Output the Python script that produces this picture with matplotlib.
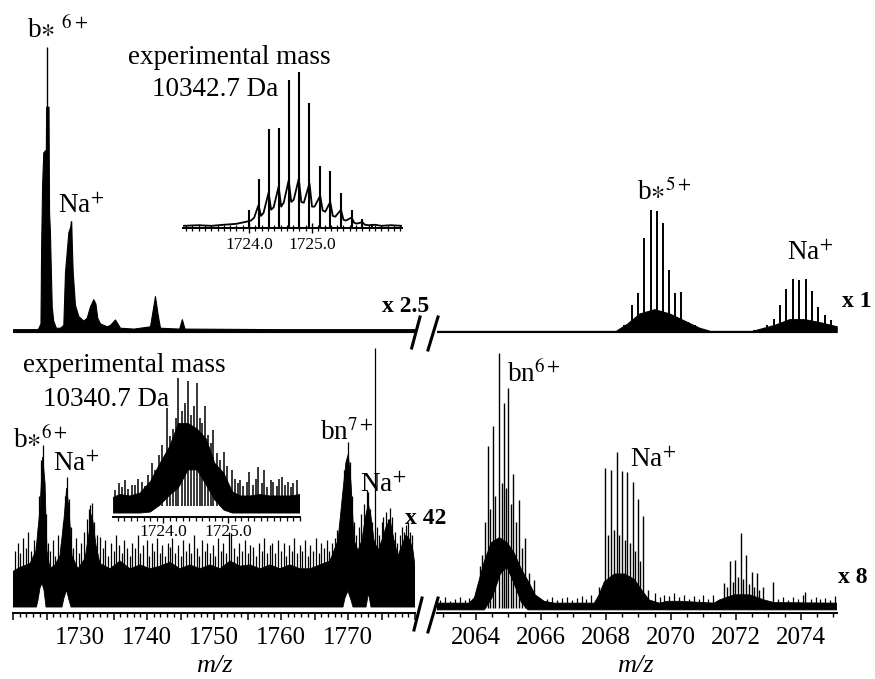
import matplotlib.pyplot as plt
from matplotlib.lines import Line2D
from matplotlib.ticker import MultipleLocator, FuncFormatter

plt.rcParams['font.family'] = ['Liberation Serif', 'DejaVu Serif']
plt.rcParams['mathtext.fontset'] = 'stix'

W, H = 875, 679

## Data: m/z and relative intensity
# upper trace, left part (x 2.5): envelope of the filled trace
tl_mz = [1720.0, 1723.7, 1724.1, 1724.2, 1724.35, 1724.52, 1724.9, 1724.95, 1725.3,
         1725.38, 1725.5, 1725.78, 1726.0, 1726.4, 1727.0, 1727.51, 1727.76, 1728.26,
         1728.55, 1728.66, 1728.91, 1729.25, 1729.75, 1730.5, 1731.0, 1731.49, 1731.99,
         1732.3, 1732.58, 1732.99, 1734.0, 1734.48, 1735.22, 1735.97, 1738.0, 1740.45,
         1740.8, 1741.19, 1741.6, 1741.94, 1744.8, 1745.2, 1745.6, 1760.0, 1780.0]
tl_int = [1, 1, 3, 30, 52, 63, 64, 79, 79,
          42, 36, 9, 4, 1.5, 1.5, 2.5, 21, 35,
          37, 38.8, 21, 9.5, 5.6, 4, 5, 9, 11.5,
          10, 5, 3, 2, 2.5, 4.4, 1.5, 1.2, 2,
          7, 12.6, 6, 1.5, 1.2, 4.5, 1.2, 1, 1]
tl_spike_mz = [1725.03, 1728.66]
tl_spike_int = [100, 38.8]

# upper trace, right part (x 1): b*5+ and Na+ isotope peaks
tr_peak_mz = [2068.56, 2068.79, 2068.99, 2069.18, 2069.38, 2069.57, 2069.75, 2069.94,
              2070.13, 2070.32, 2070.52, 2070.74, 2070.94,
              2072.57, 2072.78, 2072.96, 2073.16, 2073.34, 2073.54, 2073.74, 2073.93,
              2074.14, 2074.33, 2074.53, 2074.73, 2074.92]
tr_peak_int = [2.3, 9.3, 13.7, 32.9, 42.9, 42.3, 38.2, 21.7,
               13.7, 14.0, 3.5, 2.3, 1.2,
               0.6, 1.2, 2.3, 4.5, 9.3, 15.2, 18.7, 18.1,
               18.7, 14.4, 8.6, 5.8, 4.1]
tr_body_mz = [2062.8, 2068.3, 2068.66, 2069.03, 2069.49, 2069.95, 2070.41, 2070.87,
              2071.2, 2072.5, 2073.18, 2073.64, 2074.1, 2074.56, 2075.1]
tr_body_int = [0.4, 0.4, 3, 6.5, 8, 6.5, 4, 1.5, 0.4, 0.4, 2.5, 4.5, 4.5, 3.5, 2]

# inset of the upper trace (b*6+ isotope cluster)
in1_body_mz = [1722.95, 1723.2, 1723.4, 1723.6, 1723.8, 1723.95, 1724.03, 1724.08,
               1724.15, 1724.19, 1724.23, 1724.31, 1724.35, 1724.39, 1724.47, 1724.51,
               1724.55, 1724.63, 1724.67, 1724.71, 1724.79, 1724.83, 1724.87, 1724.96,
               1725.0, 1725.04, 1725.13, 1725.17, 1725.21, 1725.29, 1725.33, 1725.37,
               1725.46, 1725.5, 1725.54, 1725.63, 1725.67, 1725.71, 1725.8, 1725.84,
               1725.9, 1726.0, 1726.1, 1726.25, 1726.43]
in1_body_int = [0.6, 1, 0.6, 1.3, 1.9, 3.2, 4, 5.8,
                14, 7, 9, 22, 11, 12.5, 26, 13,
                15.5, 30, 16, 17.5, 31, 16, 15.5, 28,
                13, 13, 20, 10.5, 9.7, 16, 7, 6.5,
                11, 4.5, 4, 6, 2.6, 2, 3, 1.3,
                1, 1.3, 0.6, 1, 0.6]
in1_peak_mz = [1724.0, 1724.15, 1724.31, 1724.47, 1724.63, 1724.79, 1724.96, 1725.13,
               1725.29, 1725.46, 1725.63, 1725.8, 1725.96]
in1_peak_int = [11, 31, 63, 64, 95, 100, 80, 39, 36, 22, 11, 4.7, 2]
in1_labels = ['1724.0', '1725.0']

# lower trace, left part (x 42): noise band outline and spikes
ll_up_mz = [1720.0, 1721.04, 1722.54, 1723.43, 1724.03, 1724.43, 1724.78, 1725.07, 1725.52,
            1726.27, 1727.01, 1727.61, 1728.01, 1728.36, 1728.81, 1729.7, 1730.75, 1731.79,
            1732.39, 1732.99, 1734.48, 1735.97, 1737.46, 1738.96, 1740.45, 1741.94, 1743.43,
            1744.93, 1746.42, 1747.91, 1749.4, 1750.9, 1752.39, 1753.88, 1755.37, 1756.87,
            1758.36, 1759.85, 1761.34, 1762.84, 1764.33, 1765.82, 1767.31, 1768.51, 1769.25,
            1769.7, 1770.04, 1770.45, 1770.9, 1771.49, 1772.09, 1772.54, 1773.03, 1773.43,
            1773.88, 1774.48, 1775.07, 1775.67, 1776.27, 1776.87, 1777.46, 1778.06, 1778.66,
            1779.25, 1779.7, 1780.0]
ll_up_int = [16, 17.5, 19, 24, 40, 60, 50, 24, 17,
             18.5, 22, 36, 48, 40, 22, 17, 21, 38,
             26, 19, 17, 20, 17, 18.5, 17, 18, 19.5,
             17, 18.5, 17, 18.5, 17, 20, 18, 18.5, 17,
             18.5, 17, 18.5, 17, 17, 18.5, 20, 28, 47,
             58, 61, 50, 28, 24, 28, 36, 42, 37,
             28, 24, 28, 33, 36, 28, 22, 26, 30,
             28, 24, 18]
ll_low_mz = [1720.0, 1723.5, 1723.73, 1724.03, 1724.33, 1724.63, 1724.93, 1727.31, 1727.61,
             1727.99, 1728.36, 1728.66, 1769.25, 1769.55, 1769.99, 1770.45, 1770.75,
             1772.69, 1773.06, 1773.43, 1780.0]
ll_low_int = [2.3, 2.3, 5, 9.6, 11.5, 8.8, 2.3, 2.3, 5.8,
              8.8, 5, 2.3, 2.3, 5.8, 8.5, 5, 2.3,
              2.3, 7.7, 2.3, 2.3]
ll_spike_mz = [1720.3, 1720.7, 1721.1, 1721.5, 1721.9, 1722.3, 1722.7, 1723.1, 1723.4, 1723.7,
               1723.9, 1724.18, 1724.43, 1724.6, 1724.9, 1725.2, 1725.5, 1725.9, 1726.3, 1726.7,
               1727.1, 1727.4, 1727.8, 1728.01, 1728.3, 1728.6, 1729.0, 1729.4, 1729.8, 1730.2,
               1730.6, 1731.0, 1731.3, 1731.49, 1731.79, 1732.1, 1732.5, 1732.99, 1733.4, 1733.8,
               1734.2, 1734.6, 1735.0, 1735.4, 1735.8, 1736.2, 1736.6, 1737.0, 1737.4, 1737.8,
               1738.2, 1738.6, 1739.0, 1739.4, 1739.96, 1740.3, 1740.7, 1741.1, 1741.5, 1741.9,
               1742.3, 1742.7, 1743.1, 1743.43, 1743.8, 1744.2, 1744.6, 1745.0, 1745.4, 1745.8,
               1746.2, 1746.6, 1747.0, 1747.4, 1747.8, 1748.2, 1748.6, 1749.0, 1749.4, 1749.8,
               1750.2, 1750.6, 1751.0, 1751.4, 1751.8, 1752.2, 1752.6, 1753.0, 1753.4, 1753.8,
               1754.2, 1754.6, 1755.0, 1755.4, 1755.87, 1756.3, 1756.7, 1757.1, 1757.5, 1757.9,
               1758.3, 1758.7, 1759.1, 1759.6, 1760.0, 1760.4, 1760.8, 1761.2, 1761.6, 1762.0,
               1762.4, 1762.8, 1763.2, 1763.6, 1764.0, 1764.4, 1764.8, 1765.2, 1765.6, 1766.0,
               1766.4, 1766.8, 1767.2, 1767.6, 1768.0, 1768.4, 1768.81, 1769.1, 1769.4, 1770.04,
               1770.3, 1770.6, 1770.9, 1771.2, 1771.6, 1772.0, 1772.4, 1772.79, 1773.03, 1773.3,
               1773.6, 1774.03, 1774.3, 1774.7, 1775.0, 1775.27, 1775.6, 1776.0, 1776.27, 1776.6,
               1777.0, 1777.3, 1777.7, 1778.0, 1778.4, 1778.66, 1779.0, 1779.3, 1779.6]
ll_spike_int = [24, 27, 23, 29, 25, 31, 24, 28, 26, 33,
                45, 58.8, 64.6, 50, 38, 27, 24, 28, 22, 30,
                27, 35, 45, 52.3, 44, 33, 25, 29, 23, 27,
                31, 36, 40, 41.5, 42.3, 35, 30, 29.3, 25, 28,
                22, 27, 24, 30, 26, 23, 28, 25, 22, 27,
                25, 30, 23, 26, 28, 22, 27, 24, 29, 23,
                26, 22, 27, 25.5, 29, 23, 26, 22, 28, 24,
                27, 23, 30, 25, 22, 28, 24, 27, 23, 26,
                22, 29, 24, 27, 23, 31, 30.7, 25, 22, 27,
                24, 28, 23, 26, 25.5, 22, 27, 24, 29, 23,
                26, 27, 23, 28.1, 24, 27, 22, 26, 24, 29,
                23, 26, 24, 28, 22, 26, 24, 29, 23, 27,
                25, 28, 24, 27, 29, 32, 35, 42, 55, 65.8,
                58, 45, 35, 30, 33, 38, 42, 47.3, 46.5, 40,
                35, 101.8, 33, 30, 35, 37, 39, 36, 40.4, 37,
                31, 27, 30, 33, 31, 33.8, 35, 31, 30]

# inset of the lower trace
in2_mz = [1723.23, 1723.33, 1723.49, 1723.64, 1723.8, 1723.95, 1724.1, 1724.23, 1724.38,
          1724.52, 1724.66, 1724.79, 1724.93, 1725.06, 1725.18, 1725.33, 1725.49, 1725.64,
          1725.8, 1725.95, 1726.1]
in2_up = [14, 16, 15, 17, 25, 38, 50, 66, 66,
          62, 55, 38, 31, 18, 15, 15, 16, 15,
          15, 15, 16]
in2_low = [3, 3, 3, 3, 3.7, 8.7, 15.7, 20.6, 33.3,
           33.3, 22.7, 12.2, 5.1, 3, 3, 3, 3, 3,
           3, 3, 3]
in2_spike_mz = [1723.26, 1723.31, 1723.36, 1723.41, 1723.46, 1723.51, 1723.56, 1723.61, 1723.67, 1723.72,
                1723.77, 1723.82, 1723.87, 1723.93, 1723.98, 1724.05, 1724.1, 1724.15, 1724.19, 1724.23,
                1724.28, 1724.33, 1724.38, 1724.43, 1724.47, 1724.51, 1724.56, 1724.6, 1724.64, 1724.69,
                1724.73, 1724.77, 1724.82, 1724.87, 1724.93, 1724.98, 1725.05, 1725.1, 1725.14, 1725.18,
                1725.23, 1725.28, 1725.32, 1725.37, 1725.42, 1725.46, 1725.51, 1725.55, 1725.6, 1725.65,
                1725.69, 1725.74, 1725.78, 1725.82, 1725.87, 1725.91, 1725.96, 1726.0, 1726.05]
in2_spike_int = [19.2, 24, 21, 26.3, 20, 23, 22.7, 27, 25, 22,
                 30, 38, 33, 44, 50.9, 76.8, 56.8, 62, 70, 97.9,
                 75, 80, 95.5, 72, 78, 94.4, 70, 66, 77.9, 58,
                 52, 61.5, 45, 40, 46.2, 36, 33.3, 27, 24, 26.3,
                 22, 25, 32.1, 23, 27, 35.6, 24, 33.3, 21, 26,
                 25, 22, 27, 28.6, 23, 25, 21, 24, 26.3]
in2_labels = ['1724.0', '1725.0']

# lower trace, right part (x 8)
lr_up_mz = [2062.8, 2063.79, 2063.95, 2064.04, 2064.26, 2064.47, 2064.72, 2064.96, 2065.18,
            2065.39, 2065.64, 2065.82, 2066.1, 2066.41, 2067.64, 2067.79, 2067.95, 2068.26,
            2068.57, 2068.87, 2069.09, 2069.33, 2069.64, 2069.9, 2070.3, 2071.33, 2071.49,
            2071.95, 2072.42, 2072.87, 2073.18, 2075.1]
lr_up_int = [3.8, 3.8, 5.8, 10, 20, 27, 29, 27, 23,
             17, 11.5, 7, 4.5, 3.8, 3.8, 7, 12, 15,
             15, 13, 9, 5, 3.8, 4.5, 4.5, 3.8, 5,
             7, 7, 5, 4, 3.8]
lr_low_mz = [2062.8, 2064.26, 2064.5, 2064.75, 2064.95, 2065.15, 2065.4, 2065.6, 2075.1]
lr_low_int = [1.2, 1.2, 6, 15, 17.7, 12, 4, 1.2, 1.2]
lr_peak_mz = [2064.05, 2064.12, 2064.2, 2064.28, 2064.36, 2064.44, 2064.51, 2064.6, 2064.72, 2064.79,
              2064.86, 2064.93, 2065.0, 2065.08, 2065.15, 2065.23, 2065.31, 2065.42, 2065.52, 2065.64,
              2065.8,
              2067.8, 2067.97, 2068.06, 2068.15, 2068.24, 2068.33, 2068.41, 2068.49, 2068.58, 2068.66,
              2068.74, 2068.82, 2068.9, 2068.99, 2069.06, 2069.13, 2069.3,
              2071.64, 2071.73, 2071.82, 2071.9, 2071.98, 2072.06, 2072.15, 2072.23, 2072.31, 2072.4,
              2072.48, 2072.56, 2072.64, 2072.72, 2072.82, 2073.13, 2074.13]
lr_peak_int = [10, 18, 22.3, 35, 64.2, 40, 71.9, 45, 99.9, 50,
               80.6, 48, 86.4, 42, 53.5, 35, 43.5, 25, 28.7, 15.3,
               12.7,
               10, 55.7, 30, 55, 32, 61.8, 30, 54.7, 28, 54.1,
               27, 50.3, 24, 43.9, 20, 37.4, 8.8,
               11.4, 10, 19.8, 12, 20.4, 14, 30.7, 13, 22.3, 11,
               15.9, 10, 15.3, 9, 10.1, 12, 8.2]
lr_noise_mz = [2062.9, 2063.05, 2063.2, 2063.35, 2063.5, 2063.65, 2063.8, 2066.2, 2066.35, 2066.5,
               2066.65, 2066.8, 2066.95, 2067.1, 2067.25, 2067.4, 2067.55, 2069.5, 2069.65, 2069.8,
               2069.95, 2070.1, 2070.25, 2070.4, 2070.55, 2070.7, 2070.85, 2071.0, 2071.15, 2071.3,
               2073.3, 2073.45, 2073.6, 2073.75, 2073.9, 2074.05, 2074.3, 2074.45, 2074.6, 2074.75,
               2074.9, 2075.05]
lr_noise_int = [5, 6, 4.8, 5.5, 6.2, 5, 5.8, 5.5, 6.2, 4.9,
                5.6, 6.3, 5, 5.8, 6.5, 5.4, 7, 7.5, 6.2, 7,
                6.5, 7.5, 6.2, 7, 5.5, 6.5, 5.2, 6.8, 5.5, 7,
                5.5, 6.2, 5, 6, 5.2, 6.8, 5.4, 6, 5.2, 5.8,
                5, 6.5]

ll_ticks = [1730, 1740, 1750, 1760, 1770]
lr_ticks = [2064, 2066, 2068, 2070, 2072, 2074]


def box(x0, y0, x1, y1):
    # pixel box (from top-left) -> figure fraction rect
    return [x0 / W, 1 - y1 / H, (x1 - x0) / W, (y1 - y0) / H]


def clean(ax, keep_bottom=False):
    for s in ['top', 'right', 'left', 'bottom']:
        ax.spines[s].set_visible(False)
    if keep_bottom:
        ax.spines['bottom'].set_visible(True)
        ax.spines['bottom'].set_linewidth(1.4)
    else:
        ax.set_xticks([])
    ax.set_yticks([])
    ax.patch.set_alpha(0)


def poly(ax, mz_up, up, mz_low, low):
    xs = list(mz_up) + list(mz_low)[::-1]
    ys = list(up) + list(low)[::-1]
    ax.fill(xs, ys, color='black', lw=0.6, ec='black')


def txt(x, y, s, size=19.5, **kw):
    fig.text(x / W, 1 - y / H, s, fontsize=size, ha='left', va='baseline', **kw)


fig = plt.figure(figsize=(W / 100, H / 100), dpi=100)

# --- upper trace ---
ax_tl = fig.add_axes(box(13, 40, 415, 340))
clean(ax_tl)
ax_tl.set_xlim(1720, 1780)
ax_tl.set_ylim(-2.8, 102.4)
ax_tl.fill_between(tl_mz, 0, tl_int, color='black', lw=0.8)
ax_tl.vlines(tl_spike_mz, 0, tl_spike_int, color='black', lw=1.0)

ax_tr = fig.add_axes(box(437, 40, 836.7, 340))
clean(ax_tr)
ax_tr.set_xlim(2062.8, 2075.1)
ax_tr.set_ylim(-2.8, 102.4)
ax_tr.fill_between(tr_body_mz, 0, tr_body_int, color='black', lw=0.8)
ax_tr.vlines(tr_peak_mz, 0, tr_peak_int, color='black', lw=1.4)

# --- lower trace ---
ax_ll = fig.add_axes(box(13, 345, 415, 613))
clean(ax_ll, keep_bottom=True)
ax_ll.set_xlim(1720, 1780)
ax_ll.set_ylim(0, 103)
poly(ax_ll, ll_up_mz, ll_up_int, ll_low_mz, ll_low_int)
ax_ll.vlines(ll_spike_mz, 12, ll_spike_int, color='black', lw=0.9)
ax_ll.xaxis.set_major_locator(MultipleLocator(5))
ax_ll.xaxis.set_minor_locator(MultipleLocator(1))
ax_ll.xaxis.set_major_formatter(FuncFormatter(
    lambda v, p: f'{v:.0f}' if round(v) in ll_ticks else ''))
ax_ll.tick_params(axis='x', which='major', length=5, width=1.1, labelsize=18, pad=5)
ax_ll.tick_params(axis='x', which='minor', length=3, width=1.0)

ax_lr = fig.add_axes(box(437, 345, 836.7, 613))
clean(ax_lr, keep_bottom=True)
ax_lr.set_xlim(2062.8, 2075.1)
ax_lr.set_ylim(0, 103)
poly(ax_lr, lr_up_mz, lr_up_int, lr_low_mz, lr_low_int)
ax_lr.vlines(lr_peak_mz, 2, lr_peak_int, color='black', lw=1.0)
ax_lr.vlines(lr_noise_mz, 1.5, lr_noise_int, color='black', lw=0.9)
ax_lr.set_xticks(lr_ticks, [str(t) for t in lr_ticks])
ax_lr.xaxis.set_minor_locator(MultipleLocator(0.5))
ax_lr.tick_params(axis='x', which='major', length=5, width=1.1, labelsize=18, pad=5)
ax_lr.tick_params(axis='x', which='minor', length=3, width=1.0)

# --- insets ---
ax_i1 = fig.add_axes(box(183, 70, 402, 228))
clean(ax_i1, keep_bottom=True)
ax_i1.set_xlim(1722.95, 1726.43)
ax_i1.set_ylim(-0.8, 101.2)
ax_i1.plot(in1_body_mz, in1_body_int, color='black', lw=1.3)
ax_i1.vlines(in1_peak_mz, 0, in1_peak_int, color='black', lw=1.5)
ax_i1.set_xticks([1724.0, 1725.0], in1_labels)
ax_i1.xaxis.set_minor_locator(MultipleLocator(0.1))
ax_i1.tick_params(axis='x', which='major', direction='inout', length=7, width=1.0,
                  labelsize=12.5, pad=3)
ax_i1.tick_params(axis='x', which='minor', direction='inout', length=4, width=0.9)

ax_i2 = fig.add_axes(box(113.3, 375, 300, 517.3))
clean(ax_i2, keep_bottom=True)
ax_i2.set_xlim(1723.23, 1726.1)
ax_i2.set_ylim(0, 100)
poly(ax_i2, in2_mz, in2_up, in2_mz, in2_low)
ax_i2.vlines(in2_spike_mz, 8, in2_spike_int, color='black', lw=1.1)
ax_i2.set_xticks([1724.0, 1725.0], in2_labels)
ax_i2.xaxis.set_minor_locator(MultipleLocator(0.1))
ax_i2.tick_params(axis='x', which='major', length=4, width=1.0, labelsize=12.5, pad=1)
ax_i2.tick_params(axis='x', which='minor', length=3, width=0.9)

# --- axis break marks ---
for (x0, y0, x1, y1) in [(411.7, 348, 420, 317), (428, 350, 438, 317),
                         (414, 630, 422, 598), (428, 632, 438, 598)]:
    fig.add_artist(Line2D([x0 / W, x1 / W], [1 - y0 / H, 1 - y1 / H],
                          transform=fig.transFigure, color='black', lw=2.2))

# --- annotations ---
txt(27, 38, r'b$\ast$ $^{6+}$')
txt(58, 213, r'Na$^{+}$')
txt(128, 64, 'experimental mass')
txt(152, 96, '10342.7 Da')
txt(637, 200, r'b$\ast^{5+}$')
txt(787, 260, r'Na$^{+}$')
txt(382, 312, 'x 2.5', size=17, weight='bold')
txt(842, 307, 'x 1', size=17, weight='bold')

txt(23, 372, 'experimental mass')
txt(43, 406, '10340.7 Da')
txt(13, 448, r'b$\ast^{6+}$')
txt(53, 471, r'Na$^{+}$')
txt(320, 440, r'bn$^{7+}$')
txt(360, 492, r'Na$^{+}$')
txt(405, 524, 'x 42', size=17, weight='bold')
txt(507, 382, r'bn$^{6+}$')
txt(630, 467, r'Na$^{+}$')
txt(838, 583, 'x 8', size=17, weight='bold')

for xc in (214, 635):
    fig.text(xc / W, 1 - 672 / H, 'm/z', fontsize=19, style='italic',
             ha='center', va='baseline')

fig.savefig('out.png', dpi=100, facecolor='white')
